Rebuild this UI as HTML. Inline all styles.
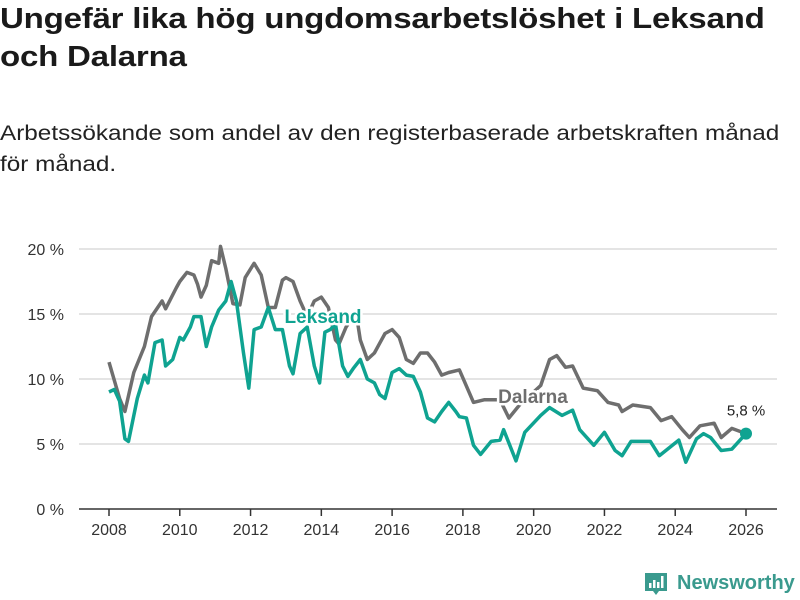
<!DOCTYPE html>
<html><head><meta charset="utf-8">
<style>
body{margin:0;width:800px;height:600px;overflow:hidden;background:#fff;font-family:"Liberation Sans",sans-serif;color:#1a1a1a}
h1{position:absolute;left:0;top:0;margin:0;font-size:28.5px;line-height:38px;font-weight:bold;width:700px;letter-spacing:-0.2px;transform:scaleX(1.16);transform-origin:0 0}
p{position:absolute;left:0;top:118px;margin:0;font-size:21.5px;line-height:31px;width:720px;color:#222;transform:scaleX(1.13);transform-origin:0 0}
svg{position:absolute;left:0;top:0}
</style></head><body>
<h1>Ungefär lika hög ungdomsarbetslöshet i Leksand<br>och Dalarna</h1>
<p>Arbetssökande som andel av den registerbaserade arbetskraften månad<br>för månad.</p>
<svg width="800" height="600">
<g id="grid"></g><g id="lines"></g><g id="labels"></g>
<g>
<path d="M645 573h22v18h-8l-3 4-3-4h-8z" fill="#3a9a8e"/>
<rect x="649" y="583" width="2.5" height="5" fill="#fff"/><rect x="653" y="580" width="2.5" height="8" fill="#fff"/><rect x="657" y="582" width="2.5" height="6" fill="#fff"/><rect x="661" y="576" width="2.5" height="12" fill="#fff"/>
<text x="677" y="589" font-size="20" font-weight="bold" fill="#3a9a8e" font-family="Liberation Sans, sans-serif">Newsworthy</text>
</g>
</svg>
<script>
const yTicks=[0,5,10,15,20];
const xTicks=[2008,2010,2012,2014,2016,2018,2020,2022,2024,2026];
const dalYears=[2008.0,2008.3,2008.45,2008.7,2009.0,2009.2,2009.5,2009.6,2009.9,2010.0,2010.2,2010.4,2010.5,2010.6,2010.75,2010.9,2011.1,2011.15,2011.3,2011.5,2011.7,2011.85,2012.1,2012.3,2012.5,2012.7,2012.9,2013.0,2013.2,2013.4,2013.6,2013.8,2014.0,2014.2,2014.4,2014.5,2014.7,2014.9,2015.0,2015.1,2015.3,2015.5,2015.8,2016.0,2016.2,2016.4,2016.6,2016.8,2017.0,2017.2,2017.4,2017.6,2017.9,2018.3,2018.6,2019.05,2019.3,2019.6,2020.2,2020.45,2020.65,2020.9,2021.1,2021.4,2021.8,2022.1,2022.4,2022.5,2022.8,2023.3,2023.6,2023.9,2024.2,2024.4,2024.7,2025.1,2025.3,2025.6,2026.0];
const dalValues=[11.3,8.5,7.5,10.5,12.5,14.8,16.0,15.4,17.0,17.5,18.2,18.0,17.3,16.3,17.2,19.1,18.9,20.2,18.5,15.8,15.7,17.8,18.9,18.0,15.5,15.5,17.6,17.8,17.5,16.0,14.8,16.0,16.3,15.5,13.0,12.7,14.0,14.8,14.8,13.0,11.5,12.0,13.5,13.8,13.2,11.5,11.2,12.0,12.0,11.3,10.3,10.5,10.7,8.2,8.4,8.4,7.0,8.0,9.5,11.5,11.8,10.9,11.0,9.3,9.1,8.2,8.0,7.5,8.0,7.8,6.8,7.1,6.1,5.5,6.4,6.6,5.5,6.2,5.8];
const lekYears=[2008.0,2008.15,2008.3,2008.45,2008.55,2008.8,2009.0,2009.1,2009.3,2009.5,2009.6,2009.8,2010.0,2010.1,2010.3,2010.4,2010.6,2010.75,2010.9,2011.1,2011.3,2011.45,2011.6,2011.8,2011.95,2012.1,2012.3,2012.5,2012.7,2012.9,2013.1,2013.2,2013.4,2013.6,2013.8,2013.95,2014.1,2014.25,2014.4,2014.6,2014.75,2014.9,2015.1,2015.3,2015.5,2015.65,2015.8,2016.0,2016.2,2016.4,2016.6,2016.8,2017.0,2017.2,2017.4,2017.6,2017.8,2017.9,2018.1,2018.3,2018.5,2018.8,2019.05,2019.15,2019.5,2019.75,2020.2,2020.45,2020.8,2021.1,2021.3,2021.7,2022.0,2022.3,2022.5,2022.75,2023.3,2023.55,2024.1,2024.3,2024.6,2024.8,2025.0,2025.3,2025.6,2026.0];
const lekValues=[9.0,9.2,8.3,5.4,5.2,8.5,10.3,9.7,12.8,13.0,11.0,11.5,13.2,13.0,14.0,14.8,14.8,12.5,14.0,15.3,16.0,17.5,16.0,12.0,9.3,13.8,14.0,15.5,13.8,13.8,11.0,10.4,13.5,14.0,11.0,9.7,13.6,13.8,14.2,11.0,10.2,10.8,11.5,10.0,9.7,8.8,8.5,10.5,10.8,10.3,10.2,9.0,7.0,6.7,7.5,8.2,7.5,7.1,7.0,4.9,4.2,5.2,5.3,6.1,3.7,5.9,7.2,7.8,7.2,7.6,6.1,4.9,5.9,4.5,4.1,5.2,5.2,4.1,5.3,3.6,5.4,5.8,5.5,4.5,4.6,5.8];
const NS='http://www.w3.org/2000/svg';
const X=v=>109+(v-2008)*(746-109)/18;
const Y=v=>509-v*13;
function mk(t,a,p){const e=document.createElementNS(NS,t);for(const k in a)e.setAttribute(k,a[k]);p.appendChild(e);return e;}
const grid=document.getElementById('grid'),lines=document.getElementById('lines'),labels=document.getElementById('labels');
yTicks.forEach(t=>{
 if(t>0){const l=mk('line',{x1:79,x2:777,y1:Y(t),y2:Y(t),stroke:'#dcdcdc','stroke-width':1.5},grid);
 
 }
 const tx=mk('text',{x:64,y:Y(t)+6,'text-anchor':'end','font-size':16,fill:'#333'},grid);tx.textContent=t+' %';
 
 
});
const base=mk('line',{x1:79,x2:777,y1:509,y2:509,stroke:'#333','stroke-width':1.5},grid);


xTicks.forEach(t=>{
 mk('line',{x1:X(t),x2:X(t),y1:509,y2:516,stroke:'#333','stroke-width':1.5},grid);
 const tx=mk('text',{x:X(t),y:535,'text-anchor':'middle','font-size':16,fill:'#333'},grid);tx.textContent=t;
 
 
});
function path(xs,vs){return xs.map((x,i)=>(i?'L':'M')+X(x).toFixed(1)+' '+Y(vs[i]).toFixed(1)).join('');}
const pd=mk('path',{d:path(dalYears,dalValues),fill:'none',stroke:'#6e6e6e','stroke-width':3.5,'stroke-linejoin':'round'},lines);


const pl=mk('path',{d:path(lekYears,lekValues),fill:'none',stroke:'#0fa391','stroke-width':3.5,'stroke-linejoin':'round'},lines);


const last=lekValues.length-1;
const dot=mk('circle',{cx:X(lekYears[last]),cy:Y(lekValues[last]),r:6,fill:'#0fa391'},lines);


const vl=mk('text',{x:X(lekYears[last]),y:Y(lekValues[last])-18,'text-anchor':'middle','font-size':15,fill:'#222'},labels);
vl.textContent=String(lekValues[last]).replace('.',',')+' %';


const ll=mk('text',{x:323,y:323,'text-anchor':'middle','font-size':19,'font-weight':'bold',fill:'#0fa391',stroke:'#fff','stroke-width':5,'paint-order':'stroke'},labels);
ll.textContent='Leksand';


const dl=mk('text',{x:533,y:403,'text-anchor':'middle','font-size':19,'font-weight':'bold',fill:'#6e6e6e',stroke:'#fff','stroke-width':5,'paint-order':'stroke'},labels);
dl.textContent='Dalarna';


</script>
</body></html>
